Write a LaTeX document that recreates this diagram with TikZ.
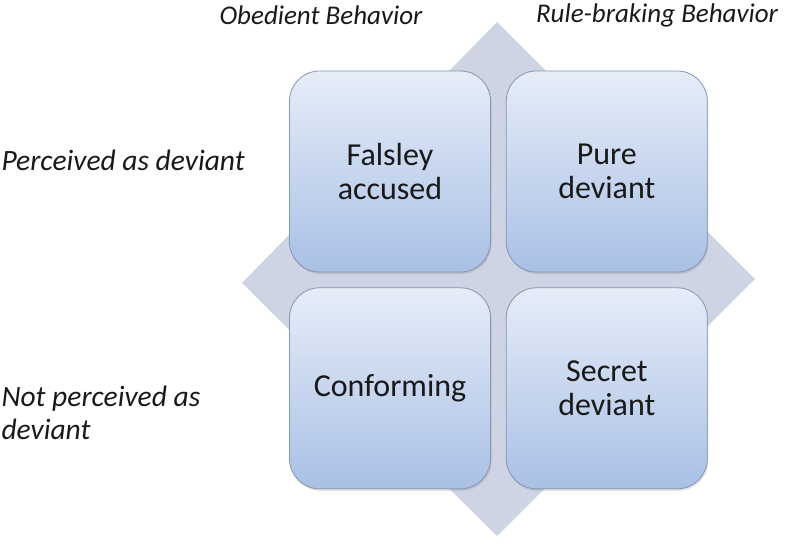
\documentclass[tikz,border=0pt]{standalone}
\usepackage{fontspec}
\setmainfont{Carlito}
\usetikzlibrary{positioning,shadows}

\definecolor{boxtop}{HTML}{E6EDF8}
\definecolor{boxbot}{HTML}{A9C0E5}
\definecolor{boxline}{HTML}{8496B2}
\definecolor{diafill}{HTML}{CED4E3}

\tikzset{
  cellbox/.style={rounded corners=30pt, draw=boxline, line width=0.8pt,
    top color=boxtop, bottom color=boxbot,
    minimum width=201pt, minimum height=201pt, align=center,
    font=\fontsize{32}{34}\selectfont, text=black!90,
    drop shadow={shadow xshift=1pt, shadow yshift=-2pt, opacity=0.25}},
  axislabel/.style={font=\itshape\fontsize{27}{33}\selectfont, text=black!90},
  rowlabel/.style={axislabel, font=\itshape\fontsize{29.5}{33}\selectfont,
    anchor=west, align=left}
}

\begin{document}
\begin{tikzpicture}[x=1pt,y=-1pt]
\useasboundingbox (0,0) rectangle (800,543);

% Background diamond
\fill[diafill] (497,22) -- (755,279) -- (497,536) -- (242,283) -- cycle;

% Four cells
\node[cellbox] (fa) at (390,171.5) {Falsley\\accused};
\node[cellbox, right=15pt of fa] (pd) {Pure\\deviant};
\node[cellbox, below=15pt of fa] (co) {Conforming};
\node[cellbox, right=15pt of co] (sd) {Secret\\deviant};

% Column labels
\node[axislabel] (ob) at (321,15) {Obedient Behavior};
\node[axislabel] (rb) at (657,15) {Rule-braking Behavior};

% Row labels
\node[rowlabel] (pa) at (-2,160) {Perceived as deviant};
\node[rowlabel] (np) at (-2,413) {Not perceived as\\deviant};

\end{tikzpicture}
\end{document}
